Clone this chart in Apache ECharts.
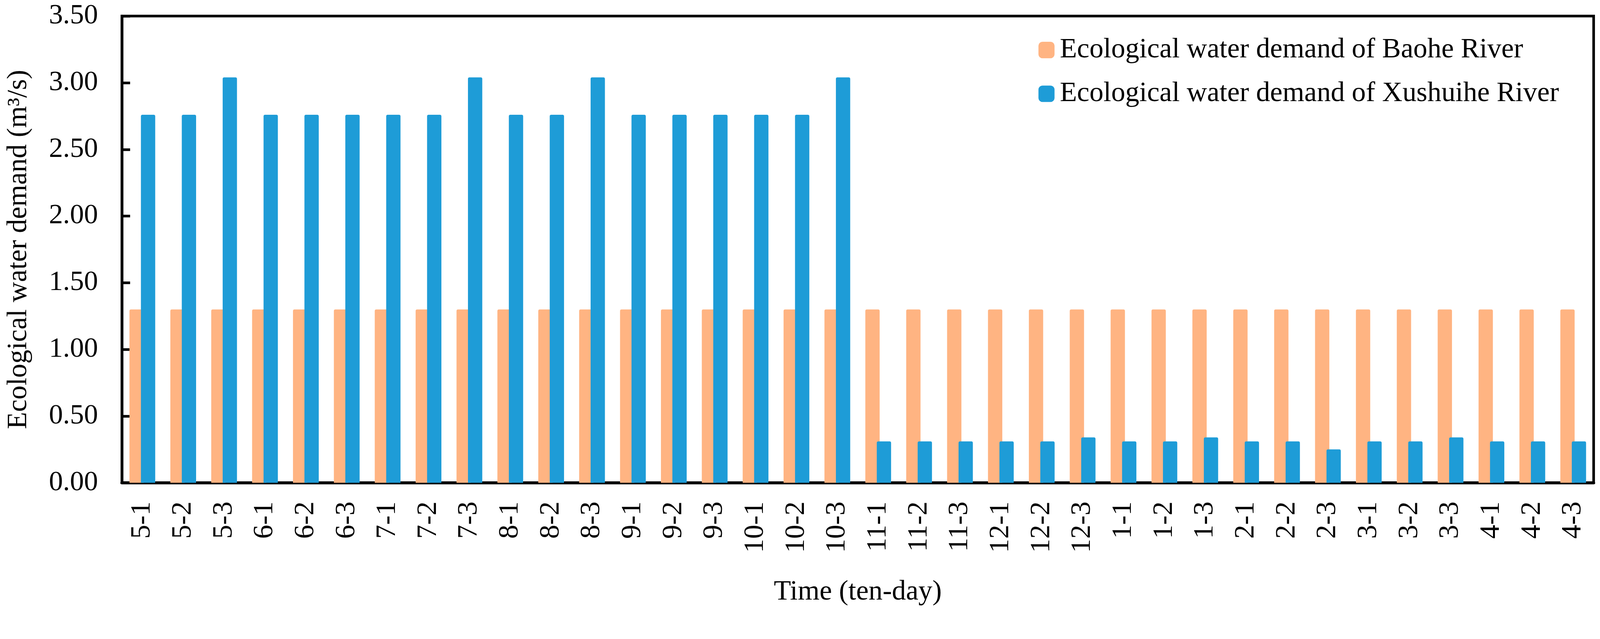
<!DOCTYPE html>
<html>
<head>
<meta charset="utf-8">
<script src="https://cdn.jsdelivr.net/npm/echarts@6/dist/echarts.min.js"></script>
<style>
html,body{margin:0;padding:0;background:#fff;overflow:hidden;}
#chart{width:100vw;height:100vh;}
</style>
</head>
<body>
<div id="chart"></div>
<script>
const categories = ['5-1','5-2','5-3','6-1','6-2','6-3','7-1','7-2','7-3','8-1','8-2','8-3','9-1','9-2','9-3','10-1','10-2','10-3','11-1','11-2','11-3','12-1','12-2','12-3','1-1','1-2','1-3','2-1','2-2','2-3','3-1','3-2','3-3','4-1','4-2','4-3'];
const baoheValues = [1.30,1.30,1.30,1.30,1.30,1.30,1.30,1.30,1.30,1.30,1.30,1.30,1.30,1.30,1.30,1.30,1.30,1.30,1.30,1.30,1.30,1.30,1.30,1.30,1.30,1.30,1.30,1.30,1.30,1.30,1.30,1.30,1.30,1.30,1.30,1.30];
const xushuiheValues = [2.76,2.76,3.04,2.76,2.76,2.76,2.76,2.76,3.04,2.76,2.76,3.04,2.76,2.76,2.76,2.76,2.76,3.04,0.31,0.31,0.31,0.31,0.31,0.34,0.31,0.31,0.34,0.31,0.31,0.25,0.31,0.31,0.34,0.31,0.31,0.31];
const seriesNames = ['Ecological water demand of Baohe River','Ecological water demand of Xushuihe River'];
const yTicks = {min:0, max:3.5, interval:0.5};

const FONT = '"Liberation Serif", "Times New Roman", serif';
const el = document.getElementById('chart');
const W = window.innerWidth || 4279, H = window.innerHeight || 1637;
const s = Math.min(W/4279, H/1637);
const p = v => v*s;
const chart = echarts.init(el, null, {renderer:'canvas', width:W, height:H});
chart.setOption({
  animation:false,
  backgroundColor:'#fff',
  textStyle:{fontFamily:FONT,color:'#000'},
  grid:{left:p(326),right:W-p(4262),top:p(43),bottom:H-p(1292),show:true,borderColor:'#000',borderWidth:p(7),containLabel:false},
  legend:{
    orient:'vertical',left:p(2772),top:p(91),itemWidth:p(43),itemHeight:p(44),itemGap:p(42),icon:'roundRect',
    textStyle:{fontFamily:FONT,fontSize:p(75),color:'#000',padding:[0,0,0,p(9)]},
    data:seriesNames
  },
  xAxis:{
    type:'category',data:categories,
    axisLine:{show:true,lineStyle:{color:'#000',width:p(8)}},
    axisTick:{show:false},
    axisLabel:{rotate:90,margin:p(50),fontFamily:FONT,fontSize:p(75),color:'#000',interval:0},
    name:'Time (ten-day)',nameLocation:'middle',nameGap:p(255),
    nameTextStyle:{fontFamily:FONT,fontSize:p(75),color:'#000'}
  },
  yAxis:{
    type:'value',min:yTicks.min,max:yTicks.max,interval:yTicks.interval,
    axisLine:{show:true,lineStyle:{color:'#000',width:p(7)}},
    axisTick:{show:true,inside:true,length:p(22),lineStyle:{color:'#000',width:p(7)}},
    splitLine:{show:false},
    axisLabel:{margin:p(64),fontFamily:FONT,fontSize:p(75),color:'#000',formatter:v=>v.toFixed(2)},
    name:'Ecological water demand (m³/s)',nameLocation:'middle',nameGap:p(238),
    nameTextStyle:{fontFamily:FONT,fontSize:p(75),color:'#000'}
  },
  series:[
    {name:seriesNames[0],type:'bar',data:baoheValues,barWidth:'35%',barGap:'-20%',
     itemStyle:{color:'#FFB482',borderRadius:[p(4),p(4),0,0]}},
    {name:seriesNames[1],type:'bar',data:xushuiheValues,barWidth:'35%',barGap:'-20%',
     itemStyle:{color:'#1E9CD7',borderRadius:[p(4),p(4),0,0]}}
  ]
});
</script>
</body>
</html>
